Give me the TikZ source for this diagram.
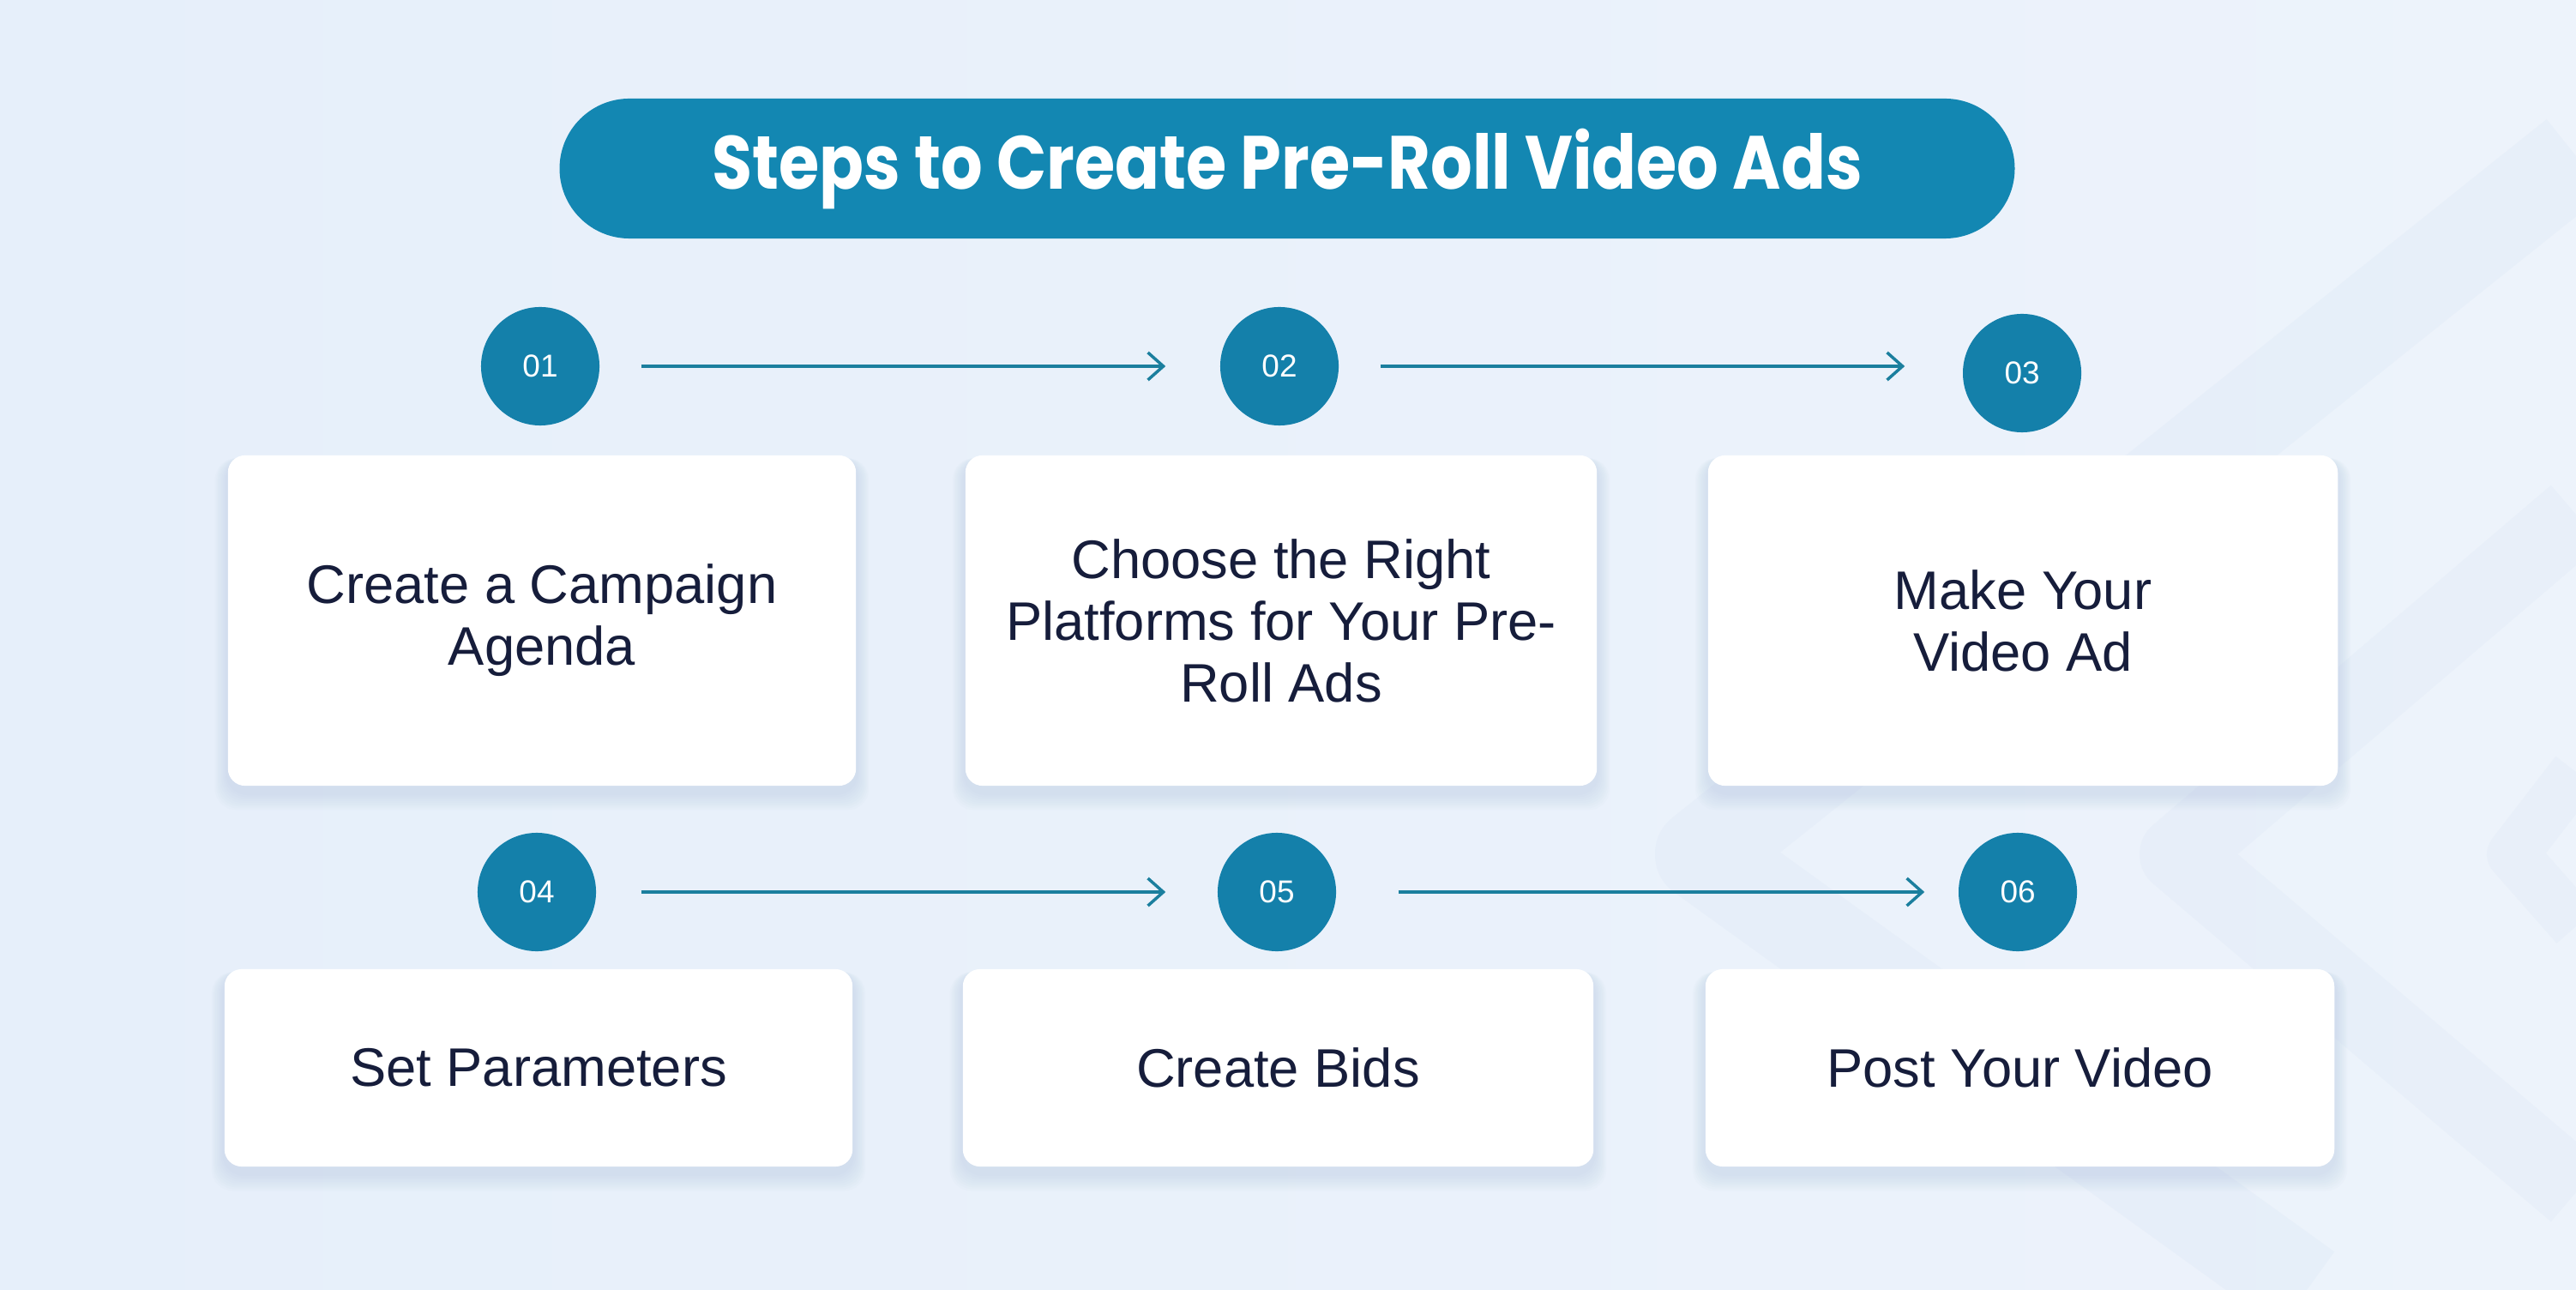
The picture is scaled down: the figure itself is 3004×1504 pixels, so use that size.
\documentclass[tikz,border=0pt]{standalone}
\usepackage{fontspec}
\setmainfont{Liberation Sans}
\newfontfamily\titlefont{Poppins}
\usetikzlibrary{arrows.meta,calc}
\definecolor{bgA}{HTML}{E6EFFA}
\definecolor{bgB}{HTML}{EDF3FB}
\definecolor{band}{HTML}{DCE7F5}
\definecolor{teal}{HTML}{1387B2}
\definecolor{dot}{HTML}{1480AA}
\definecolor{arrc}{HTML}{1B7F9E}
\definecolor{ink}{HTML}{161D3B}
\definecolor{shadowc}{HTML}{9FB3D6}
\pgfdeclarelayer{bglayer}
\pgfdeclarelayer{shadowlayer}
\pgfsetlayers{bglayer,shadowlayer,main}
\tikzset{
  card/.style={rectangle, fill=white, rounded corners=0.2cm, align=center,
    text=ink, font=\fontsize{18}{20.5}\selectfont, inner sep=0pt},
  numdot/.style={circle, fill=dot, minimum size=1.38cm, inner sep=0pt,
    text=white, font=\fontsize{10.5}{12}\selectfont},
  arr/.style={draw=arrc, line width=0.035cm, -{Straight Barb[length=0.18cm,width=0.32cm,line width=0.035cm]}},
  pill/.style={rectangle, fill=teal, rounded corners=0.815cm, minimum width=16.96cm,
    minimum height=1.63cm, text=white, inner sep=0pt}
}
\begin{document}
\begin{tikzpicture}[x=0.01cm,y=-0.01cm]
\useasboundingbox (0,0) rectangle (3004,1504);
\begin{pgfonlayer}{bglayer}
  \shade[left color=bgA, right color=bgB] (0,0) rectangle (3004,1504);
  \begin{scope}
  \clip (0,0) rectangle (3004,1504);
  \draw[band, line width=1.1cm, opacity=0.32, line join=round] (3004,182) -- (1985,996) -- (2690,1504);
  \draw[band, line width=0.9cm, opacity=0.28, line join=round] (3004,600) -- (2540,996) -- (3004,1390);
  \draw[band, line width=0.6cm, opacity=0.25, line join=round] (3004,900) -- (2930,996) -- (3004,1080);
  \end{scope}
\end{pgfonlayer}

\node[pill] (title) at (1501,196.5) {\titlefont\bfseries\fontsize{25}{30}\selectfont\scalebox{0.87}[1]{Steps to Create Pre-Roll Video Ads}};

\node[numdot] (c1) at (630,427) {01};
\node[numdot] (c2) at (1492,427) {02};
\node[numdot] (c3) at (2358,435) {03};
\node[numdot] (c4) at (626,1040) {04};
\node[numdot] (c5) at (1489,1040) {05};
\node[numdot] (c6) at (2353,1040) {06};

\node[card, minimum width=7.32cm, minimum height=3.85cm] (b1) at (632,723.5) {Create a Campaign\\Agenda};
\node[card, minimum width=7.36cm, minimum height=3.85cm] (b2) at (1494,723.5) {Choose the Right\\Platforms for Your Pre-\\Roll Ads};
\node[card, minimum width=7.34cm, minimum height=3.85cm] (b3) at (2359,723.5) {Make Your\\Video Ad};
\node[card, minimum width=7.32cm, minimum height=2.30cm] (b4) at (628,1245) {Set Parameters};
\node[card, minimum width=7.35cm, minimum height=2.30cm] (b5) at (1490.5,1245) {Create Bids};
\node[card, minimum width=7.33cm, minimum height=2.30cm] (b6) at (2355.5,1245) {Post Your Video};

\begin{pgfonlayer}{shadowlayer}
  \foreach \n in {b1,b2,b3,b4,b5,b6}{
    \foreach \i in {1,...,9}{
      \fill[shadowc, opacity=0.03, rounded corners=0.25cm]
        ($(\n.south west)+(-\i*1.6,8+\i*2.2)$) rectangle ($(\n.north east)+(\i*1.6,4)$);
    }
  }
\end{pgfonlayer}

\draw[arr] ([xshift=0.48cm]c1.east) -- ([xshift=-0.63cm]c2.west);
\draw[arr] ([xshift=0.48cm]c2.east) -- ([xshift=-0.67cm]c2.east -| c3.west);
\draw[arr] ([xshift=0.52cm]c4.east) -- ([xshift=-0.60cm]c5.west);
\draw[arr] ([xshift=0.72cm]c5.east) -- ([xshift=-0.39cm]c6.west);
\end{tikzpicture}
\end{document}
